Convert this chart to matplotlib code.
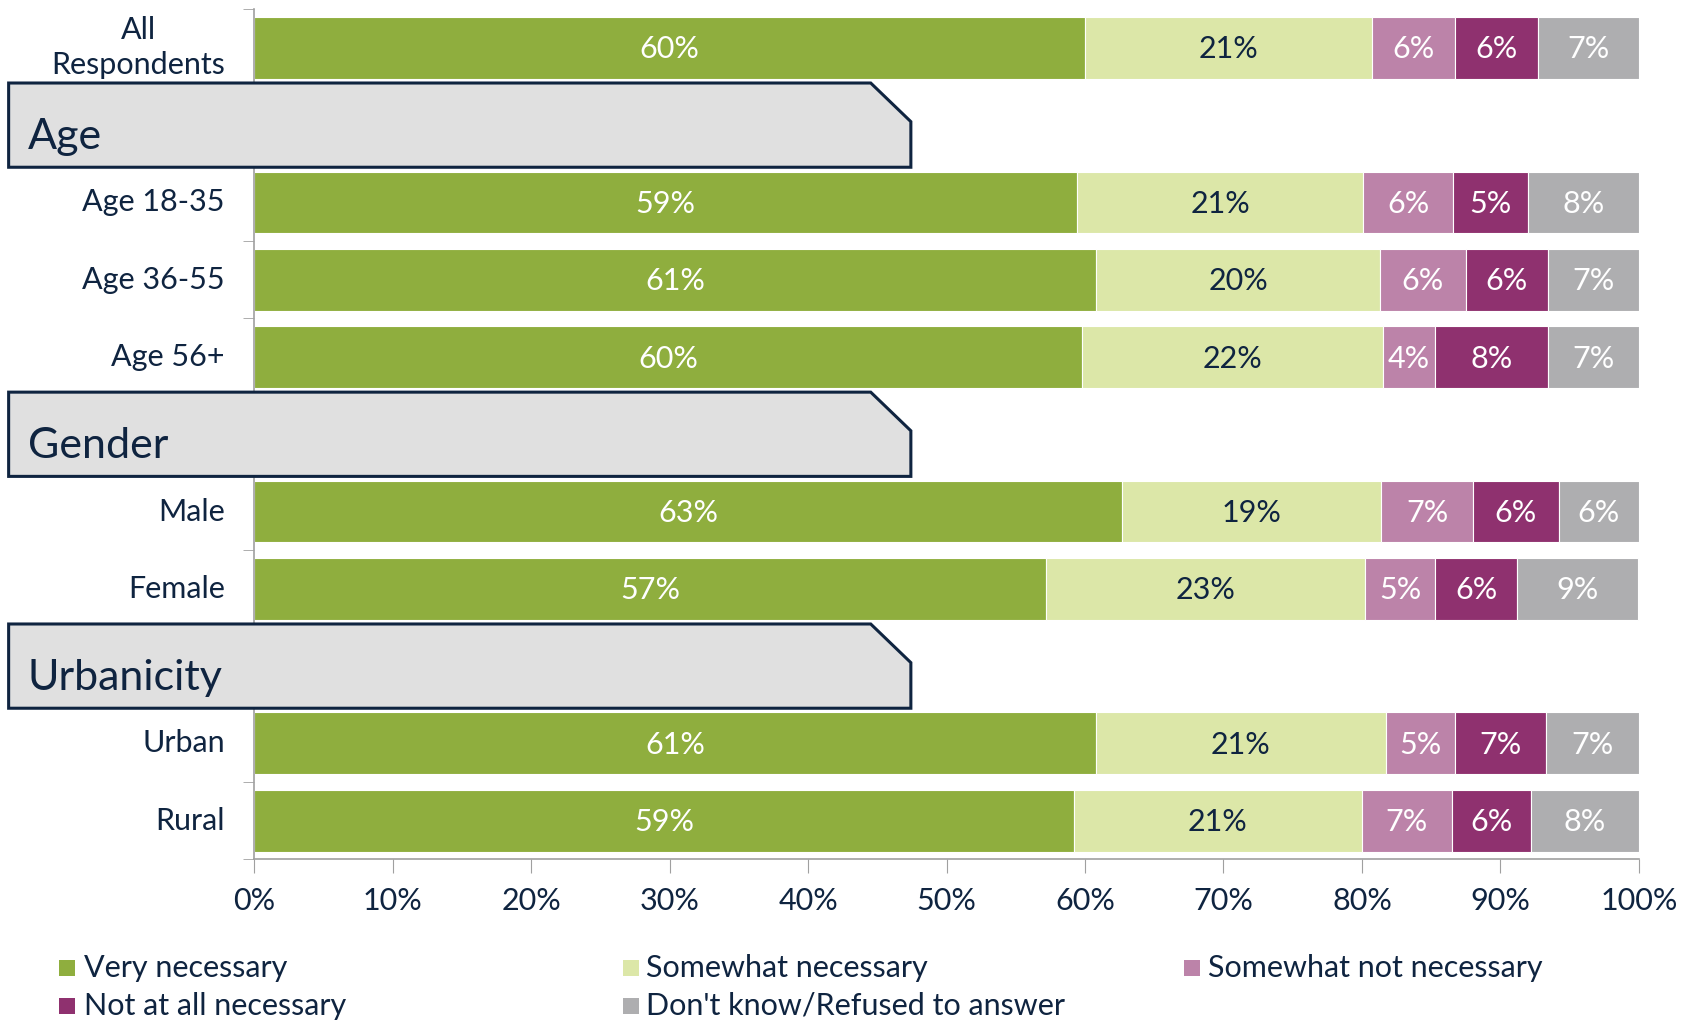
import matplotlib.pyplot as plt
from matplotlib.patches import Polygon, Rectangle
from matplotlib.transforms import blended_transform_factory
import numpy as np

plt.rcParams['font.family'] = ['Lato', 'DejaVu Sans']

# rows from top; header names mark a section banner row
rows = ['All\nRespondents', 'Age', 'Age 18-35', 'Age 36-55', 'Age 56+', 'Gender',
        'Male', 'Female', 'Urbanicity', 'Urban', 'Rural']
headers = ['Age', 'Gender', 'Urbanicity']

series = ['Very necessary', 'Somewhat necessary', 'Somewhat not necessary',
          'Not at all necessary', "Don't know/Refused to answer"]
colors = ['#8FAE3E', '#DCE7A8', '#BC83A9', '#8F316F', '#AEAEB0']
text_colors = ['white', '#0F2440', 'white', 'white', 'white']

# segment widths (percent), one list per data row
very = [60.0, 59.4, 60.8, 59.8, 62.7, 57.2, 60.8, 59.2]
somewhat = [20.7, 20.7, 20.5, 21.7, 18.7, 23.0, 20.9, 20.8]
somewhat_not = [6.0, 6.5, 6.2, 3.8, 6.6, 5.1, 5.0, 6.5]
not_at_all = [6.0, 5.4, 5.9, 8.1, 6.2, 5.9, 6.6, 5.7]
dont_know = [7.3, 8.0, 6.6, 6.6, 5.8, 8.7, 6.7, 7.8]

# printed labels
lab_very = [60, 59, 61, 60, 63, 57, 61, 59]
lab_somewhat = [21, 21, 20, 22, 19, 23, 21, 21]
lab_somewhat_not = [6, 6, 6, 4, 7, 5, 5, 7]
lab_not_at_all = [6, 5, 6, 8, 6, 6, 7, 6]
lab_dont_know = [7, 8, 7, 7, 6, 9, 7, 8]

values = [very, somewhat, somewhat_not, not_at_all, dont_know]
labels = [lab_very, lab_somewhat, lab_somewhat_not, lab_not_at_all, lab_dont_know]

navy = '#0F2440'

fig = plt.figure(figsize=(16.94, 10.23), dpi=100)
ax = fig.add_axes([0.150, 0.160, 0.8175, 0.831])

data_pos = [i for i, r in enumerate(rows) if r not in headers]
head_pos = [i for i, r in enumerate(rows) if r in headers]

left = np.zeros(len(data_pos))
for vals, labs, c, tc in zip(values, labels, colors, text_colors):
    vals = np.array(vals)
    ax.barh(data_pos, vals, left=left, height=0.8, color=c, edgecolor='white', linewidth=0.8)
    for y, l, v, lab in zip(data_pos, left, vals, labs):
        ax.text(l + v / 2, y + 0.02, f'{lab}%', ha='center', va='center',
                fontsize=22, color=tc)
    left += vals

ax.set_xlim(0, 100)
ax.set_ylim(10.5, -0.5)
ax.set_xticks(np.arange(0, 101, 10))
ax.set_xticklabels([f'{t}%' for t in range(0, 101, 10)], fontsize=22, color=navy)
ax.tick_params(axis='x', length=10, color='#A0A0A0', pad=10)

# row labels drawn as text so the two-line one centres on its bar
ax.set_yticks(data_pos)
ax.set_yticklabels([])
ax.tick_params(axis='y', which='major', length=0)
for i in data_pos:
    ax.annotate(rows[i], xy=(0, i), xytext=(-21, 0), textcoords='offset points',
                ha='right', va='center', multialignment='center',
                linespacing=1.3, fontsize=22, color=navy, annotation_clip=False)
ax.set_yticks(np.arange(-0.5, 11, 1), minor=True)
ax.tick_params(axis='y', which='minor', length=8, color='#A0A0A0')

for s in ['top', 'right']:
    ax.spines[s].set_visible(False)
for s in ['left', 'bottom']:
    ax.spines[s].set_color('#A0A0A0')
    ax.spines[s].set_linewidth(1.2)

# section header banners
tr = blended_transform_factory(fig.transFigure, ax.transData)
x0, x1, xc = 0.0051, 0.5377, 0.514
for y, name in zip(head_pos, headers):
    top, bot = y - 0.545, y + 0.545
    poly = Polygon([(x0, top), (xc, top), (x1, top + 0.5), (x1, bot), (x0, bot)],
                   closed=True, transform=tr, facecolor='#E0E0E0',
                   edgecolor=navy, linewidth=2.2, clip_on=False, zorder=5)
    ax.add_patch(poly)
    ax.text(0.0165, y + 0.15, name, transform=tr, fontsize=31, color=navy,
            ha='left', va='center', zorder=6)

# legend, laid out row by row
leg_x = [(59, 84), (623, 646), (1184, 1208)]
leg_y = [968, 1006]
for i, (name, c) in enumerate(zip(series, colors)):
    r, col = divmod(i, 3)
    sx, tx = leg_x[col]
    yy = 1 - leg_y[r] / 1023
    fig.patches.append(Rectangle((sx / 1694, yy - 8 / 1023), 16 / 1694, 16 / 1023,
                                 transform=fig.transFigure, facecolor=c,
                                 edgecolor='none'))
    fig.text(tx / 1694, yy, name, fontsize=22, color=navy, va='center', ha='left')

fig.savefig('out.png', dpi=100)
